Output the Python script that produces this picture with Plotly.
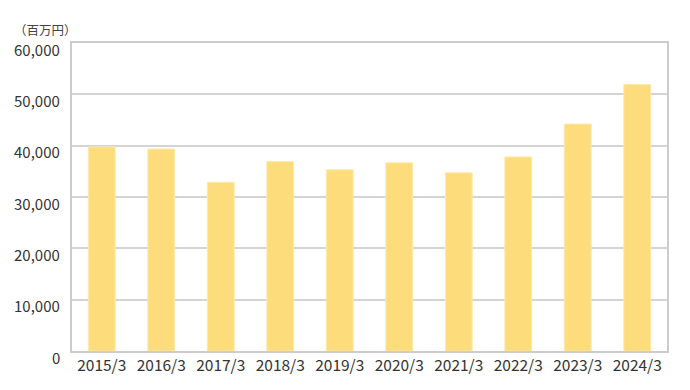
import plotly.graph_objects as go

categories = ["2015/3", "2016/3", "2017/3", "2018/3", "2019/3",
              "2020/3", "2021/3", "2022/3", "2023/3", "2024/3"]
values = [39750, 39350, 32850, 36900, 35300, 36650, 34700, 37800, 44200, 51900]
y_ticks = [0, 10000, 20000, 30000, 40000, 50000, 60000]
unit_label = "（百万円）"

font_family = "Noto Sans CJK JP, Noto Sans, sans-serif"

fig = go.Figure(go.Bar(
    x=categories, y=values,
    marker=dict(color="#FDDC7B", line=dict(color="#FEE9A8", width=1)),
))

annotations = [dict(
    text=unit_label, xref="paper", yref="paper",
    x=-0.045, y=1.0, xanchor="center", yanchor="bottom", yshift=2,
    showarrow=False, font=dict(size=12.5, color="#444444", family=font_family),
)]
for v in y_ticks:
    annotations.append(dict(
        text=f"{v:,}", xref="paper", yref="y", x=0, y=v,
        xanchor="right", yanchor="middle", xshift=-10, yshift=-6,
        showarrow=False, font=dict(size=15, color="#333333", family=font_family),
    ))

fig.update_layout(
    width=690, height=390,
    margin=dict(l=72, r=23, t=43, b=39),
    paper_bgcolor="white", plot_bgcolor="white",
    bargap=0.55,
    showlegend=False,
    font=dict(family=font_family, color="#333333"),
    annotations=annotations,
)
fig.update_xaxes(
    showline=True, linecolor="#cccccc", linewidth=1.5, mirror=True,
    tickfont=dict(size=15.5), ticks="", showgrid=False,
)
fig.update_yaxes(
    range=[0, 60000], tickvals=y_ticks, showticklabels=False,
    showline=True, linecolor="#cccccc", linewidth=1.5, mirror=True,
    gridcolor="#d4d4d4", gridwidth=1.5, zeroline=False, ticks="",
)

fig.write_html("out.html")
